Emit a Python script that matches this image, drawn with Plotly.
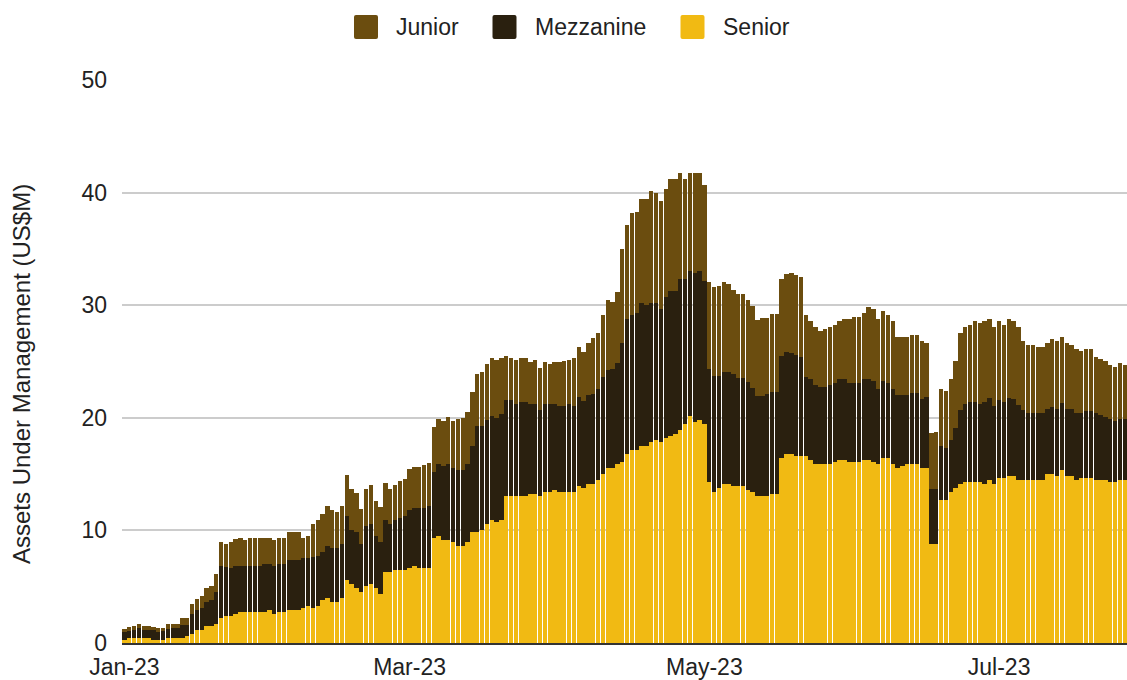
import pandas as pd
import plotly.graph_objects as go

# Daily values, US$M, from 2023-01-01
start_date = "2023-01-01"

senior = [
    0.24, 0.41, 0.41, 0.41, 0.41, 0.41, 0.30, 0.24, 0.24, 0.41,
    0.41, 0.41, 0.41, 0.59, 0.80, 1.15, 1.15, 1.51, 1.51, 1.69,
    2.22, 2.37, 2.43, 2.57, 2.72, 2.72, 2.72, 2.72, 2.72, 2.72,
    2.90, 2.60, 2.72, 2.72, 2.90, 2.90, 2.90, 3.08, 3.25, 3.08,
    3.25, 3.79, 3.96, 3.67, 3.67, 3.96, 5.60, 5.24, 4.86, 4.50,
    5.06, 5.24, 4.86, 4.32, 6.28, 6.28, 6.45, 6.45, 6.45, 6.63,
    6.81, 6.63, 6.63, 6.63, 9.30, 9.47, 9.12, 9.12, 8.94, 8.59,
    8.61, 8.97, 9.86, 9.86, 10.04, 10.57, 10.92, 10.75, 10.92, 13.06,
    13.06, 13.06, 13.06, 13.06, 13.23, 13.23, 13.06, 13.41, 13.41, 13.59,
    13.41, 13.41, 13.41, 13.41, 13.94, 13.77, 14.12, 14.12, 14.48, 15.01,
    15.54, 15.54, 15.90, 16.07, 16.78, 17.14, 17.14, 17.50, 17.50, 17.85,
    18.03, 17.85, 18.21, 18.38, 18.56, 18.92, 19.45, 20.16, 19.63, 19.80,
    19.45, 14.30, 13.41, 13.77, 14.12, 14.12, 13.94, 13.94, 13.94, 13.59,
    13.41, 13.06, 13.06, 13.06, 13.23, 13.23, 16.43, 16.78, 16.78, 16.61,
    16.61, 16.61, 16.25, 15.90, 15.90, 15.90, 15.90, 16.07, 16.25, 16.25,
    16.07, 16.07, 16.07, 16.25, 16.25, 16.07, 15.90, 16.43, 16.43, 15.90,
    15.54, 15.72, 15.90, 15.90, 15.90, 15.54, 15.54, 8.79, 8.79, 12.70,
    12.70, 13.41, 13.77, 14.12, 14.30, 14.30, 14.30, 14.30, 14.12, 14.48,
    14.12, 14.65, 14.65, 14.83, 14.83, 14.48, 14.48, 14.48, 14.48, 14.48,
    14.48, 15.01, 15.01, 14.83, 15.36, 14.83, 14.83, 14.48, 14.65, 14.65,
    14.65, 14.48, 14.48, 14.48, 14.30, 14.30, 14.48, 14.48,
]

mezzanine = [
    0.74, 0.68, 0.71, 0.89, 0.71, 0.71, 0.82, 0.71, 0.80, 0.86,
    0.89, 0.89, 1.22, 1.04, 1.77, 1.75, 1.93, 2.13, 2.28, 2.87,
    4.64, 4.38, 4.26, 4.23, 4.08, 4.08, 4.08, 4.08, 4.08, 4.26,
    4.08, 4.20, 4.26, 4.32, 4.44, 4.44, 4.44, 4.43, 4.26, 4.55,
    4.44, 4.32, 4.68, 4.79, 4.79, 4.80, 5.68, 4.80, 5.00, 4.29,
    5.33, 5.33, 4.64, 4.65, 4.64, 4.29, 4.47, 4.65, 4.83, 5.18,
    5.18, 5.36, 5.36, 5.54, 5.89, 6.43, 6.60, 6.78, 6.60, 6.77,
    6.75, 6.93, 7.64, 9.41, 9.23, 9.23, 9.24, 9.23, 9.42, 8.52,
    8.52, 8.17, 8.34, 8.34, 8.00, 8.00, 7.63, 7.82, 7.82, 7.64,
    7.64, 7.64, 7.82, 7.64, 7.88, 7.69, 7.88, 7.99, 8.05, 8.58,
    8.71, 8.76, 8.94, 10.54, 11.96, 11.96, 12.14, 12.67, 12.49, 12.32,
    12.14, 11.78, 12.49, 12.85, 12.67, 13.38, 12.85, 12.85, 13.20, 13.21,
    12.67, 10.00, 10.30, 9.94, 9.95, 9.95, 9.95, 9.59, 9.59, 9.59,
    9.24, 8.88, 8.88, 9.05, 9.06, 9.06, 9.06, 9.06, 8.95, 8.94,
    8.76, 6.98, 7.17, 6.98, 6.81, 6.81, 6.98, 6.99, 7.17, 7.17,
    6.99, 6.99, 6.99, 7.17, 7.17, 7.17, 6.63, 6.81, 6.63, 6.63,
    6.46, 6.28, 6.10, 6.27, 6.27, 6.10, 6.28, 4.86, 4.86, 4.80,
    4.62, 4.62, 5.32, 6.57, 6.93, 7.10, 7.10, 6.93, 7.28, 7.28,
    6.93, 6.93, 6.75, 6.93, 6.81, 6.63, 6.21, 5.92, 5.92, 5.92,
    5.92, 5.74, 5.92, 5.92, 5.92, 5.92, 5.92, 5.92, 5.75, 5.92,
    5.92, 5.92, 5.74, 5.56, 5.56, 5.39, 5.38, 5.38,
]

junior = [
    0.29, 0.33, 0.36, 0.39, 0.36, 0.36, 0.33, 0.35, 0.26, 0.42,
    0.39, 0.39, 0.56, 0.56, 0.89, 1.01, 1.06, 1.21, 1.30, 1.53,
    2.07, 2.07, 2.24, 2.43, 2.49, 2.37, 2.49, 2.49, 2.49, 2.31,
    2.31, 2.31, 2.31, 2.25, 2.48, 2.48, 2.48, 1.78, 1.96, 2.90,
    3.20, 3.31, 3.49, 3.32, 3.20, 3.37, 3.67, 3.67, 3.49, 3.14,
    3.32, 3.49, 3.14, 3.14, 3.32, 3.14, 3.14, 3.32, 3.31, 3.67,
    3.67, 3.67, 3.85, 3.85, 4.02, 4.02, 4.03, 4.20, 4.21, 4.56,
    4.62, 4.62, 4.79, 4.62, 4.80, 4.98, 5.15, 5.15, 4.97, 3.91,
    3.73, 3.90, 3.91, 3.91, 3.73, 3.90, 3.73, 3.73, 3.55, 3.73,
    3.91, 4.02, 3.90, 4.26, 4.44, 4.38, 4.61, 4.98, 4.97, 5.51,
    6.21, 5.98, 6.33, 8.35, 8.35, 9.06, 9.00, 9.23, 9.41, 9.94,
    9.76, 9.59, 9.59, 9.95, 9.95, 9.41, 8.88, 8.70, 8.88, 8.70,
    8.53, 7.76, 7.88, 8.00, 7.99, 7.81, 7.46, 7.47, 7.47, 7.28,
    7.28, 6.75, 6.92, 6.75, 6.93, 6.93, 6.81, 6.93, 7.10, 7.10,
    7.11, 5.51, 5.15, 5.15, 4.97, 5.15, 5.15, 5.15, 5.15, 5.32,
    5.68, 5.86, 5.86, 5.86, 6.39, 6.39, 6.21, 6.22, 6.04, 6.04,
    5.15, 5.15, 5.15, 5.15, 5.15, 5.15, 4.79, 4.97, 5.09, 5.03,
    5.03, 5.39, 5.92, 6.81, 6.80, 6.81, 7.17, 7.16, 7.17, 6.98,
    6.98, 6.99, 6.81, 6.98, 6.93, 6.92, 6.10, 6.04, 6.04, 5.86,
    5.86, 5.86, 6.04, 6.04, 5.87, 5.86, 5.69, 5.68, 5.50, 5.51,
    5.51, 4.97, 5.03, 5.03, 4.80, 4.85, 5.04, 4.86,
]

series_names = ["Senior", "Mezzanine", "Junior"]
series_colors = {"Senior": "#F1BA13", "Mezzanine": "#2A200F", "Junior": "#6B4D0F"}
tick_dates = ["2023-01-01", "2023-03-01", "2023-05-01", "2023-07-01"]
tick_labels = ["Jan-23", "Mar-23", "May-23", "Jul-23"]
legend_order = ["Junior", "Mezzanine", "Senior"]
y_title = "Assets Under Management (US$M)"

dates = pd.date_range(start_date, periods=len(senior), freq="D")
values = {"Senior": senior, "Mezzanine": mezzanine, "Junior": junior}

FONT = "Liberation Sans, Arial, sans-serif"
TXT = "#222222"

fig = go.Figure()
for name in series_names:
    fig.add_trace(go.Bar(
        x=dates, y=values[name], name=name,
        marker=dict(color=series_colors[name], line=dict(width=0)),
        showlegend=False,
    ))

W, H = 1127, 680
ML, MR, MT, MB = 122, 0, 80, 37
pw, ph = W - ML - MR, H - MT - MB

def px_to_paper(px, py):
    return (px - ML) / pw, (H - MB - py) / ph

# custom legend (large rounded swatches like the reference)
shapes = []
annotations = []
sw_centers = [366, 504.5, 692.5]
txt_lefts = [394, 533, 721]
for name, cx, tx in zip(legend_order, sw_centers, txt_lefts):
    ax, ay = px_to_paper(cx, 27)
    shapes.append(dict(
        type="path", xref="paper", yref="paper",
        xsizemode="pixel", ysizemode="pixel", xanchor=ax, yanchor=ay,
        path="M-12,-10 Q-12,-12 -10,-12 L10,-12 Q12,-12 12,-10 L12,10 Q12,12 10,12 L-10,12 Q-12,12 -12,10 Z",
        fillcolor=series_colors[name], line=dict(width=0),
    ))
    tx_p, ty_p = px_to_paper(tx, 27)
    annotations.append(dict(
        x=tx_p, y=ty_p, xref="paper", yref="paper", xanchor="left", yanchor="middle",
        text=name, showarrow=False, font=dict(family=FONT, size=23, color=TXT),
    ))

# y-axis title (placed slightly below the plot's centre, as in the reference)
tx_p, ty_p = px_to_paper(21, 374)
annotations.append(dict(
    x=tx_p, y=ty_p, xref="paper", yref="paper", xanchor="center", yanchor="middle",
    text=y_title, textangle=-90, showarrow=False,
    font=dict(family=FONT, size=24, color=TXT),
))

fig.update_layout(
    width=W, height=H,
    margin=dict(l=ML, r=MR, t=MT, b=MB, autoexpand=False),
    barmode="stack", bargap=0.1,
    plot_bgcolor="white", paper_bgcolor="white",
    font=dict(family=FONT, size=23, color=TXT),
    showlegend=False,
    shapes=shapes, annotations=annotations,
    xaxis=dict(
        type="date",
        range=["2022-12-31 12:00", "2023-07-27 11:00"],
        tickvals=tick_dates, ticktext=tick_labels,
        showgrid=False, zeroline=False,
        showline=True, linecolor="#333333", linewidth=2,
        ticks="", ticklabelstandoff=2,
        tickfont=dict(family=FONT, size=23, color=TXT),
        automargin=False,
    ),
    yaxis=dict(
        range=[0, 50], dtick=10, tick0=0,
        showgrid=True, gridcolor="#cccccc", gridwidth=1.5,
        zeroline=False, showline=False, ticks="",
        ticklabelstandoff=14,
        tickfont=dict(family=FONT, size=23, color=TXT),
        automargin=False,
    ),
)

fig.write_html(
    "out.html",
    config={"displayModeBar": False},
    post_script="document.body.style.margin='0';document.documentElement.style.overflow='hidden';",
)
